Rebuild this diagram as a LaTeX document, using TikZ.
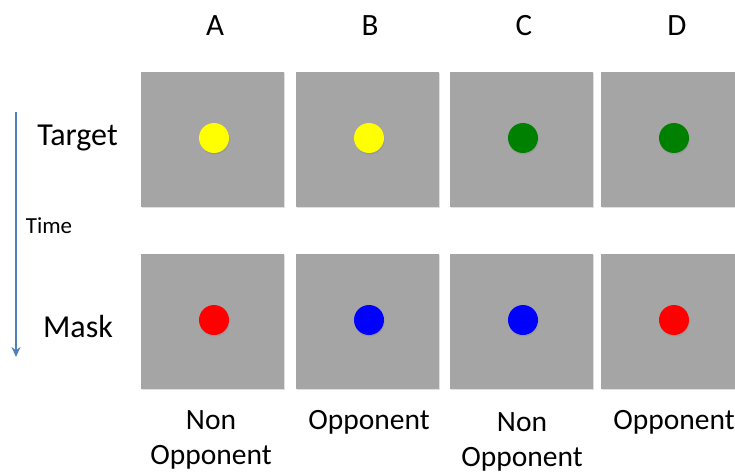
\documentclass[tikz,border=0pt]{standalone}
\usepackage{fontspec}
\setmainfont{Carlito}
\usetikzlibrary{arrows.meta,shadows}
\definecolor{panelgray}{RGB}{165,165,165}
\definecolor{arrowblue}{RGB}{79,129,189}
\definecolor{dotyellow}{RGB}{255,255,0}
\definecolor{dotgreen}{RGB}{0,128,0}
\definecolor{dotred}{RGB}{255,0,0}
\definecolor{dotblue}{RGB}{0,0,255}
\begin{document}
\begin{tikzpicture}[x=1pt,y=-1pt,
  panel/.style={fill=panelgray, draw=none, minimum width=143pt, minimum height=135pt, inner sep=0pt, anchor=north west,
     drop shadow={shadow xshift=0.8pt, shadow yshift=-1.2pt, opacity=0.25}},
  dot/.style={circle, draw=none, minimum size=30pt, inner sep=0pt,
     drop shadow={shadow xshift=0.6pt, shadow yshift=-1.5pt, opacity=0.3}},
  colhead/.style={font=\fontsize{31}{34}\selectfont, inner sep=0pt},
  rowlab/.style={font=\fontsize{32}{34}\selectfont, inner sep=0pt},
  bottomlab/.style={font=\fontsize{29.5}{35}\selectfont, align=center, inner sep=0pt},
  timelab/.style={font=\fontsize{23}{26}\selectfont, inner sep=0pt}
]
\useasboundingbox (0,0) rectangle (735,473);
\begin{scope}
\clip (0,0) rectangle (735,473);
% panels
\node[panel] (pA1) at (141,72) {};
\node[panel] (pB1) at (296,72) {};
\node[panel] (pC1) at (450,72) {};
\node[panel] (pD1) at (601,72) {};
\node[panel] (pA2) at (141,254) {};
\node[panel] (pB2) at (296,254) {};
\node[panel] (pC2) at (450,254) {};
\node[panel] (pD2) at (601,254) {};
% dots
\node[dot, fill=dotyellow] (dA1) at (214,138) {};
\node[dot, fill=dotyellow] (dB1) at (369,138) {};
\node[dot, fill=dotgreen] (dC1) at (523,138) {};
\node[dot, fill=dotgreen] (dD1) at (674,138) {};
\node[dot, fill=dotred] (dA2) at (214,320) {};
\node[dot, fill=dotblue] (dB2) at (369,320) {};
\node[dot, fill=dotblue] (dC2) at (523,320) {};
\node[dot, fill=dotred] (dD2) at (674,320) {};
\end{scope}
% column headings
\node[colhead] (hA) at (215,26) {A};
\node[colhead] (hB) at (370,26) {B};
\node[colhead] (hC) at (524,26) {C};
\node[colhead] (hD) at (677,26) {D};
% row labels
\node[rowlab] (lT) at (77.5,138) {Target};
\node[rowlab] (lM) at (78,327) {Mask};
% time arrow
\coordinate (tTop) at (16,112);
\coordinate (tBot) at (16,357);
\draw[arrowblue, line width=1.5pt, -{Stealth[length=10pt,width=9pt]}] (tTop) -- (tBot);
\node[timelab] (lTime) at (49,226) {Time};
% bottom labels
\node[bottomlab] (bA) at (211,440) {Non\\Opponent};
\node[bottomlab] (bB) at (369,422) {Opponent};
\node[bottomlab] (bC) at (522,442) {Non\\Opponent};
\node[bottomlab] (bD) at (674,422) {Opponent};
\end{tikzpicture}
\end{document}
